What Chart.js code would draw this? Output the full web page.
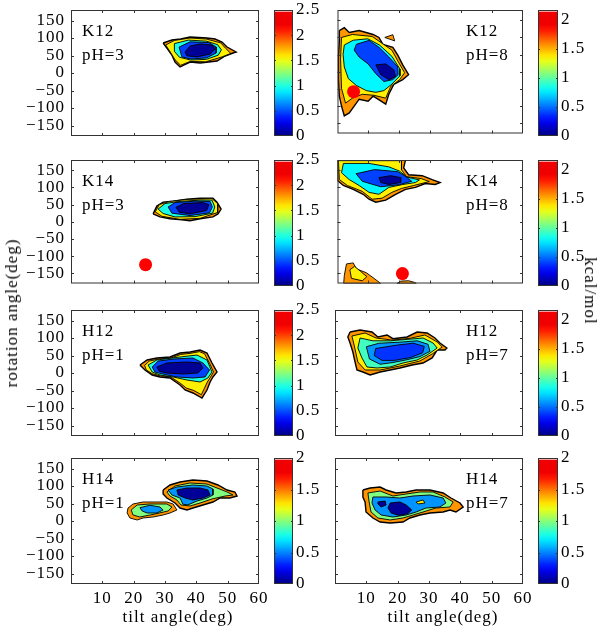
<!DOCTYPE html>
<html>
<head>
<meta charset="utf-8">
<script src="https://cdn.jsdelivr.net/npm/chart.js@4.4.0/dist/chart.umd.min.js"></script>
<style>
  body { margin: 0; background: #fff; }
  #fig { position: relative; width: 606px; height: 629px; overflow: hidden;
         font-family: "Liberation Serif", "Times New Roman", serif; color: #000; }
  #fig canvas { position: absolute; }
  .lbl { position: absolute; font-size: 17px; line-height: 24px; letter-spacing: 1px; white-space: nowrap; }
</style>
</head>
<body>
<div id="fig"></div>
<script>
// --- DATA ---
const xTicks = [10, 20, 30, 40, 50, 60];
const yTicks = [-150, -100, -50, 0, 50, 100, 150];
const cbTicksA = [0, 0.5, 1, 1.5, 2, 2.5];
const cbTicksB = [0, 0.5, 1, 1.5, 2];
const residues = ['K12', 'K12', 'K14', 'K14', 'H12', 'H12', 'H14', 'H14'];
const phValues = [3, 8, 3, 8, 1, 7, 1, 7];
const cbMax = [2.5, 2.17, 2.5, 2.17, 2.5, 2.17, 2, 2];
// red markers [tilt, rotation]
const redDots = [[], [5.2, -58], [23.8, -125], [21, -151], [], [], [], []];

// contour levels (kcal/mol), outermost first, with their outlines [tilt, rot, tilt, rot, ...]
const k12ph3Levels = [1.83, 1.6, 1.0, 0.47, 0.05];
const k12ph3Shapes = [
    [29.4,85.7, 32.2,94.3, 35,97, 38,102.9, 43.4,100, 46,97, 48.2,88.6, 49.8,74.3, 52.7,60, 51.7,57.1, 49.2,48.6, 46.6,34.3, 41.2,28.6, 38,31.4, 34.8,17.1, 33.2,31.4, 32.2,51.4, 30.6,71.4],
    [30.2,80, 33,93, 38,100, 43.2,97, 47.8,86, 49.4,70, 51,56, 48.2,46, 43,32, 38,33, 35,22, 33.2,38, 31.4,64],
    [33,84, 37.5,94, 43.2,91, 46.8,81, 48,66, 47,51, 43.2,39, 38.2,37, 34.6,45, 33,62],
    [34.5,74, 38,89, 44,87, 46.4,74, 46.3,57, 43.2,43, 38.2,40, 35.4,46],
    [36.4,60, 38,77, 41.2,83, 45,80, 46,69, 44.4,54, 40.2,46, 37,49]
];
const k12ph8Levels = [1.58, 1.58, 1.39, 0.8, 0.41, 0.05];
const k12ph8Shapes = [
    [0.6,120, 2.2,128.6, 3.8,114.3, 7,120, 11.5,108.6, 13.4,100, 14.7,80, 17.9,71.4, 19.5,48.6, 21.1,20, 23,-8.6, 21.1,-22.9, 18.2,-37.1, 16.6,-65.7, 15.6,-94.3, 13.1,-80, 11.5,-71.4, 9.9,-85.7, 7,-80, 5.4,-100, 3.8,-120, 2.2,-128.6, 1.3,-100, 0.6,-71.4, 0.3,-22.9, 0.3,42.9, 0.6,91.4],
    [15.3,100, 17.9,108, 18.5,90],
    [1.3,100, 4.8,108.6, 11.2,102.9, 14.4,82.9, 17.6,62.9, 19.5,31.4, 21.7,-2.9, 20.1,-22.9, 17.2,-42.9, 15.6,-77.1, 11.8,-68.6, 8,-65.7, 4.8,-77.1, 2.6,-91.4, 1.3,-48.6, 1,37.1],
    [2.2,78, 5.1,92, 9.8,96, 13.6,78, 17.6,45, 20.2,8, 20.2,-12, 17.6,-36, 15,-55, 12.4,-60, 9.3,-55, 6.1,-40, 3.5,-20, 2.2,14, 1.8,50],
    [6.1,80, 10.2,91.4, 13.4,71.4, 16.6,42.9, 19.5,14.3, 19.6,-8.6, 17.9,-22.9, 15,-28.6, 12.4,-5.7, 9.9,22.9, 7,42.9, 5.4,62.9],
    [12.4,20, 15.6,22.9, 18.2,5.7, 18.8,-14.3, 16.6,-22.9, 14,-8.6]
];
const k14ph3Levels = [1.83, 1.6, 1.0, 0.47, 0.05];
const k14ph3Shapes = [
    [26.2,23, 27.4,45.7, 29.4,57.1, 32.6,60, 37,65.7, 41.2,68.6, 45.3,68.6, 46.6,57.1, 47.9,37.1, 46.9,22.9, 45.3,14.3, 41.2,8.6, 38,2.9, 35.4,5.7, 31.6,8.6, 28.4,14.3],
    [26.9,29, 28.2,50, 31.4,59, 37,65, 45,67.5, 46.9,52, 46.8,27, 41.2,10, 34.8,7, 29,16],
    [27.8,37, 30,53, 34.2,59, 41.2,63, 45,63, 45.9,43, 45.2,25, 39.6,15, 33.2,14, 29.4,24],
    [31,43, 33.2,56, 39.6,60, 44.4,59, 45.1,43, 44.2,26, 38,18, 32.2,25],
    [33.5,42, 36,53, 42,56, 44,50, 43.3,33, 38,23, 34.5,28]
];
const k14ph8Levels = [1.58, 1.58, 1.58, 1.39, 1.39, 0.8, 0.41, 0.05];
const k14ph8Shapes = [
    [0,180, 22,180, 21.4,157.1, 23,137.1, 27.4,134.3, 30.6,122.9, 33.2,114.3, 31.6,108.6, 28.4,111.4, 25.2,100, 22,94.3, 18.8,80, 15.6,62.9, 12.4,57.1, 10.2,65.7, 8.3,80, 5.1,94.3, 1.9,105.7, 0,120],
    [2.2,-157.1, 2.9,-122.9, 5.1,-120, 6.1,-137.1, 9.3,-148.6, 11.5,-162.9, 14,-180, 2,-180],
    [19.2,-180, 20.5,-173, 23,-172, 25,-177, 25.5,-180],
    [0.3,178, 20.7,178, 20.7,151.4, 22.3,131.4, 27.1,125.7, 29.7,117.1, 24.6,105.7, 20.7,97.1, 17.6,85.7, 14.4,68.6, 11.2,65.7, 8,88.6, 3.2,105.7, 0.6,122.9],
    [4,-140, 5.5,-130, 7.5,-145, 9.5,-160, 8,-172, 4.5,-165],
    [1.9,170, 10.2,170, 16.6,160, 20,148, 22.5,130, 26.5,122, 25.2,114.3, 21.1,108.6, 16.6,100, 13.4,80, 10.2,85.7, 7,105.7, 3.8,122.9, 1.3,142.9],
    [6,140, 12,152, 19.5,146, 22,132, 24,118, 20,108, 14,102, 8,118],
    [13.4,128.6, 17.2,134.3, 20.5,128.6, 20.4,114.3, 16.6,108.6, 14,114.3]
];
const h12ph1Levels = [1.83, 1.6, 1.0, 0.47, 0.05];
const h12ph1Shapes = [
    [22,22.9, 24.3,37.1, 27.4,42.9, 31.6,45.7, 34.8,57.1, 38,60, 41.2,65.7, 43.4,57.1, 45,28.6, 46.6,2.9, 45.3,-11.4, 44.4,-25.7, 43.4,-48.6, 41.8,-71.4, 38.9,-57.1, 36.4,-48.6, 34.8,-34.3, 31.6,-14.3, 28.4,-11.4, 25.9,-5.7, 23.6,8.6],
    [23.5,22, 25,34, 28,40, 32,43, 35,53, 38,56, 41,61, 42.6,55, 44.2,28, 45.5,3, 44.5,-12, 43.5,-26, 42.5,-45, 41.6,-62, 39.2,-50, 36.8,-43, 35,-30, 31.8,-11, 28.4,-8, 25.9,-2, 24,9],
    [24.6,22.9, 27.4,37.1, 34.8,45.7, 40.2,51.4, 43.4,37.1, 45,2.9, 43.7,-14.3, 41.2,-25.7, 37,-20, 32.6,-11.4, 28.4,-5.7, 25.9,2.9],
    [25.9,17.1, 27.8,34, 32.6,40, 38.9,42.9, 42.1,28.6, 44.2,8.6, 42.8,-11.4, 38.9,-14.3, 33.8,-11.4, 29.4,-3, 26.8,2.9],
    [27.4,17.1, 30.6,28.6, 37,31.4, 41.2,28.6, 42.1,14.3, 40.5,0, 35.7,-2.9, 30.6,0, 28.1,5.7]
];
const h12ph7Levels = [1.58, 1.39, 0.95, 0.59, 0.38];
const h12ph7Shapes = [
    [4.8,117.1, 8,122.9, 11.8,117.1, 13.7,102.9, 16.6,108.6, 18.5,98, 23,102.9, 26.2,117.1, 29.4,114.3, 31.9,100, 33.5,85.7, 35.7,71.4, 35.1,65.7, 32.6,65.7, 31,42.9, 28.1,28.6, 24.6,22.9, 20.7,14.3, 17.6,8.6, 14.4,2.9, 11.2,-5.7, 8.9,2.9, 7,8.6, 6.4,31.4, 5.7,60, 4.8,85.7, 4.1,102.9],
    [5.4,105.7, 9.6,114.3, 13.1,100, 18.2,94, 23.9,99, 28.7,108.6, 32.6,88.6, 34.2,74.3, 31,54.3, 27.1,34.3, 20.7,20, 14.4,8.6, 9.6,8.6, 7.3,31.4, 6.1,80],
    [8,100, 12.1,92, 17.6,92, 23,96, 28.1,100, 31.3,85.7, 32.6,71.4, 29.4,51.4, 26.2,37.1, 21.7,28.6, 17.6,17.1, 13.4,14.3, 10.2,17.1, 8.6,42.9, 7.3,71.4],
    [10,75, 14,85, 20.7,88, 26.2,92, 29.7,82, 30.3,62, 27.1,47, 23,38, 18.5,30, 14.4,25, 11,40],
    [13,70, 20,80, 25,85, 28.5,76, 28,58, 24,44, 19,36, 15,36, 12.5,50]
];
const h14ph1Levels = [1.46, 1.46, 1.0, 1.0, 0.54, 0.54, 0.05];
const h14ph1Shapes = [
    [29.4,88.6, 31.6,102.9, 34.8,111.4, 38.9,117.1, 43.4,114.3, 46.9,102.9, 49.8,88.6, 52.3,82.9, 53,71.4, 50.7,65.7, 47.6,65.7, 45.3,54.3, 42.1,45.7, 38.9,37.1, 37,31.4, 34.8,37.1, 33.2,51.4, 30.6,65.7, 29.4,77.1],
    [18.2,37.1, 19.8,48.6, 23,54.3, 27.4,54.3, 30.6,54.3, 32.6,48.6, 33.8,31.4, 31.6,22.9, 29.4,17.1, 26.2,11.4, 23,8.6, 21.1,2.9, 18.8,8.6, 17.9,22.9],
    [30.6,82.9, 33.2,100, 38,108.6, 43.4,105.7, 46.6,94.3, 49.8,82.9, 51.7,74.3, 49.2,71.4, 45,62.9, 41.2,51.4, 38,42.9, 35.1,45.7, 33.8,60, 31.6,71.4],
    [19.2,31.4, 21.1,45.7, 25.2,48.6, 30.6,48.6, 32.2,40, 31,28.6, 26.8,20, 22,11.4, 19.8,17.1],
    [31,88.6, 33.8,97.1, 38.9,102.9, 43.4,100, 45.3,91.4, 45.3,74.3, 43.4,65.7, 40.2,57.1, 37.3,46, 35.7,48, 34.8,65.7, 32.2,74.3],
    [22,38, 25.2,45, 28.4,40, 29.4,31.4, 27.4,22.9, 24.3,22.9, 22.7,28.6],
    [33.8,88.6, 37,94.3, 41.2,94.3, 43.7,88.6, 44.4,74.3, 42.1,65.7, 38.9,60, 36.4,65.7, 34.2,74.3]
];
const h14ph7Levels = [1.46, 1.0, 0.54, 1.28, 0.05, 0.05];
const h14ph7Shapes = [
    [8.9,88.6, 11.2,94.3, 14.4,97.1, 16.3,88.6, 19.5,80, 22.7,82.9, 25.9,88.6, 30.3,88.6, 34.5,80, 37,65.7, 39.9,51.4, 40.9,40, 38.6,25.7, 36.7,31.4, 34.5,25.7, 30.3,22.9, 27.1,17.1, 23.9,8.6, 21.7,-2.9, 17.6,-5.7, 14.4,-2.9, 12.1,8.6, 9.9,25.7, 9.6,54.3, 8.9,68.6],
    [10.5,80, 14.4,85.7, 18.5,71.4, 22.7,77.1, 27.1,82.9, 31.3,82.9, 35.1,68.6, 37.7,54.3, 36.7,40, 32.2,37.1, 28.1,25.7, 24.9,17.1, 21.7,8.6, 17.6,2.9, 13.7,8.6, 11.5,25.7, 10.9,54.3],
    [12.1,68.6, 16.3,68.6, 20.7,65.7, 24.9,71.4, 30.3,74.3, 34.5,65.7, 35.4,51.4, 33.5,40, 29,37.1, 25.9,25.7, 22.7,17.1, 18.5,11.4, 14.7,17.1, 12.8,31.4, 11.8,51.4],
    [25.9,54.3, 28.1,60, 28.7,51.4, 26.5,48.6],
    [17.6,51.4, 20.7,54.3, 22.7,45.7, 24.5,31.4, 23.2,21, 20.4,16, 17.9,22.9, 16.9,37.1],
    [13.7,54.3, 16,57.1, 16.3,45.7, 14.7,40, 13.7,48.6]
];

const allLevels = [k12ph3Levels, k12ph8Levels, k14ph3Levels, k14ph8Levels, h12ph1Levels, h12ph7Levels, h14ph1Levels, h14ph7Levels];
const allShapes = [k12ph3Shapes, k12ph8Shapes, k14ph3Shapes, k14ph8Shapes, h12ph1Shapes, h12ph7Shapes, h14ph1Shapes, h14ph7Shapes];

// --- LAYOUT ---
const colX = [71, 335];      // plot frame left
const rowY = [10, 160, 310, 458];
const plotW = 188, plotH = 126;
const cbX = [274, 538], cbW = [19, 20];
const font = { family: '"Liberation Serif", "Times New Roman", serif', size: 17 };
const fig = document.getElementById('fig');

// --- HELPERS ---
function jet(f) {
    const c = v => Math.round(255 * Math.max(0, Math.min(1, v)));
    return `rgb(${c(1.5 - Math.abs(4 * f - 3))},${c(1.5 - Math.abs(4 * f - 2))},${c(1.5 - Math.abs(4 * f - 1))})`;
}

function toPoints(flat) {
    const pts = [];
    for (let i = 0; i < flat.length; i += 2) pts.push({ x: flat[i], y: flat[i + 1] });
    pts.push(pts[0]);
    return pts;
}

function addCanvas(left, top, w, h) {
    const c = document.createElement('canvas');
    c.width = w; c.height = h;
    c.style.left = left + 'px'; c.style.top = top + 'px';
    c.style.width = w + 'px'; c.style.height = h + 'px';
    fig.appendChild(c);
    return c;
}

function addLabel(text, left, top, transform) {
    const d = document.createElement('div');
    d.className = 'lbl';
    d.innerHTML = text;
    d.style.left = left + 'px';
    d.style.top = top + 'px';
    if (transform) d.style.transform = transform;
    fig.appendChild(d);
}

const spacing = { id: 'spacing', beforeUpdate(chart) { chart.ctx.letterSpacing = '1px'; } };

// frame with inward tick marks (MATLAB box style)
function makeFrame(xt, yt, len) {
    return {
        id: 'frame',
        afterDraw(chart) {
            const { ctx, chartArea: a, scales } = chart;
            ctx.save();
            ctx.strokeStyle = '#333';
            ctx.lineWidth = 1;
            ctx.beginPath();
            xt.forEach(v => {
                const p = Math.round(scales.x.getPixelForValue(v)) + 0.5;
                ctx.moveTo(p, a.bottom); ctx.lineTo(p, a.bottom - len);
                ctx.moveTo(p, a.top); ctx.lineTo(p, a.top + len);
            });
            yt.forEach(v => {
                const p = Math.round(scales.y.getPixelForValue(v)) + 0.5;
                ctx.moveTo(a.left, p); ctx.lineTo(a.left + len, p);
                ctx.moveTo(a.right, p); ctx.lineTo(a.right - len, p);
            });
            ctx.stroke();
            ctx.strokeRect(a.left + 0.5, a.top + 0.5, a.right - a.left - 1, a.bottom - a.top - 1);
            ctx.restore();
        }
    };
}

// --- PANELS ---
function makePanel(i) {
    const col = i % 2, row = Math.floor(i / 2);
    const bottom = row === 3;
    const axW = col === 0 ? 71 : 4;
    const axH = bottom ? 40 : 4;
    const padT = 8, padR = 12;
    const canvas = addCanvas(colX[col] - axW, rowY[row] - padT, axW + plotW + padR, padT + plotH + axH);

    const datasets = [];
    if (redDots[i].length) {
        datasets.push({
            data: [{ x: redDots[i][0], y: redDots[i][1] }],
            pointRadius: 6.5, pointBackgroundColor: '#ff0000', pointBorderWidth: 0, showLine: false
        });
    }
    const shapes = allShapes[i], levels = allLevels[i];
    // later datasets are painted first, so list the inner contours first
    for (let k = shapes.length - 1; k >= 0; k--) {
        datasets.push({
            data: toPoints(shapes[k]),
            showLine: true,
            fill: 'shape',
            tension: 0,
            pointRadius: 0,
            borderColor: '#000',
            borderWidth: k === 0 ? 1.4 : 0.9,
            backgroundColor: jet(levels[k] / cbMax[i])
        });
    }

    new Chart(canvas, {
        type: 'scatter',
        data: { datasets },
        options: {
            responsive: false,
            animation: false,
            devicePixelRatio: 1,
            events: [],
            layout: { padding: { top: padT, right: padR, left: 0, bottom: 0 } },
            plugins: { legend: { display: false }, tooltip: { enabled: false } },
            scales: {
                x: {
                    type: 'linear', min: 0, max: 60,
                    grid: { display: false, drawTicks: false }, border: { display: false },
                    ticks: { display: bottom, font, color: '#000', padding: 4, autoSkip: false, maxRotation: 0 },
                    afterBuildTicks: s => { s.ticks = xTicks.map(v => ({ value: v })); },
                    afterFit: s => { s.height = axH; s.paddingLeft = 0; s.paddingRight = 0; }
                },
                y: {
                    type: 'linear', min: -180, max: 180,
                    grid: { display: false, drawTicks: false }, border: { display: false },
                    ticks: {
                        display: col === 0, font, color: '#000', padding: 6, autoSkip: false,
                        callback: v => v < 0 ? '\u2212' + Math.abs(v) : String(v)
                    },
                    afterBuildTicks: s => { s.ticks = yTicks.map(v => ({ value: v })); },
                    afterFit: s => { s.width = axW; s.paddingTop = 0; s.paddingBottom = 0; }
                }
            }
        },
        plugins: [makeFrame(xTicks.slice(0, -1), yTicks, 3), spacing]
    });

    addLabel(residues[i] + '<br>pH=' + phValues[i], col === 0 ? 82 : 466, rowY[row] + 9);
}

// --- COLORBARS ---
function jetGradient(chart) {
    const a = chart.chartArea;
    if (!a) return '#00008f';
    const g = chart.ctx.createLinearGradient(0, a.bottom, 0, a.top);
    for (let k = 0; k <= 20; k++) g.addColorStop(k / 20 * 0.985, jet(Math.min(k / 20, 0.89)));
    g.addColorStop(0.99, '#ffffff');
    g.addColorStop(1, '#ffffff');
    return g;
}

function makeColorbar(i) {
    const col = i % 2, row = Math.floor(i / 2);
    const w = cbW[col], max = cbMax[i];
    const ticks = max > 2.2 ? cbTicksA : cbTicksB;
    const canvas = addCanvas(cbX[col], rowY[row] - 10, w + 40, plotH + 20);
    new Chart(canvas, {
        type: 'bar',
        data: {
            labels: [''],
            datasets: [{
                data: [[0, max]],
                backgroundColor: ctx => jetGradient(ctx.chart),
                borderWidth: 0, barPercentage: 1, categoryPercentage: 1
            }]
        },
        options: {
            responsive: false,
            animation: false,
            devicePixelRatio: 1,
            events: [],
            layout: { padding: { top: 10, bottom: 10, left: 0, right: 0 } },
            plugins: { legend: { display: false }, tooltip: { enabled: false } },
            scales: {
                x: { display: false },
                y: {
                    position: 'right', min: 0, max,
                    grid: { display: false, drawTicks: false }, border: { display: false },
                    ticks: { font, color: '#000', padding: 3, autoSkip: false, callback: v => String(v) },
                    afterBuildTicks: s => { s.ticks = ticks.map(v => ({ value: v })); },
                    afterFit: s => { s.width = 40; s.paddingTop = 0; s.paddingBottom = 0; }
                }
            }
        },
        plugins: [makeFrame([], ticks.slice(1, -1), 2), spacing]
    });
}

for (let i = 0; i < 8; i++) { makePanel(i); makeColorbar(i); }

// --- AXIS TITLES ---
addLabel('rotation angle(deg)', 12, 313, 'translate(-50%,-50%) rotate(-90deg)');
addLabel('kcal/mol', 590, 291, 'translate(-50%,-50%) rotate(90deg)');
addLabel('tilt angle(deg)', 178, 617, 'translate(-50%,-50%)');
addLabel('tilt angle(deg)', 443, 617, 'translate(-50%,-50%)');
</script>
</body>
</html>
